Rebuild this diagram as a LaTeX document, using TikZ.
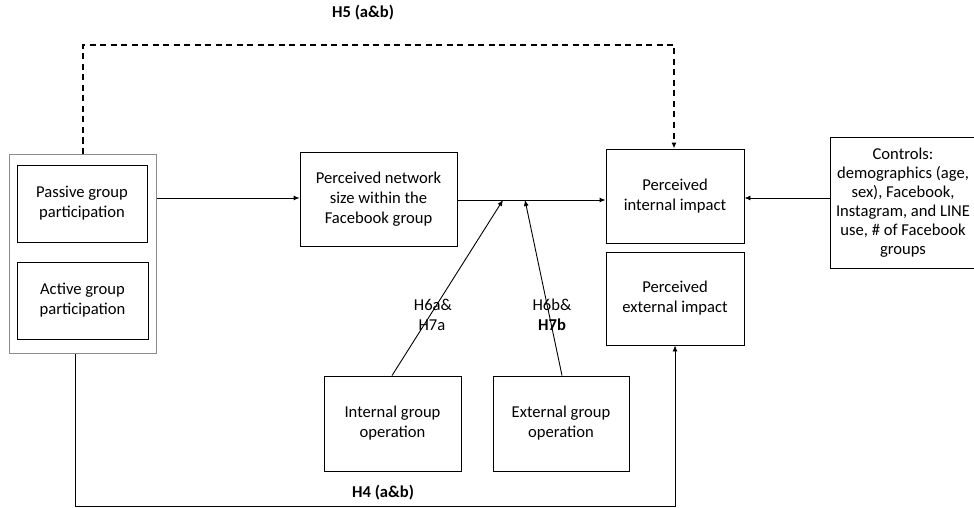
\documentclass[tikz,border=0pt]{standalone}
\usepackage{fontspec}
\setmainfont{Carlito}
\usetikzlibrary{arrows.meta}
\begin{document}
\begin{tikzpicture}[x=1pt,y=-1pt,
  box/.style={draw=black, line width=0.9pt, align=center, inner sep=0pt, font=\fontsize{16.6}{20}\selectfont},
  lbl/.style={font=\fontsize{16.6}{20}\selectfont, inner sep=0pt, align=center},
  blbl/.style={font=\fontsize{16.6}{20}\selectfont\bfseries, inner sep=0pt, align=center},
  conn/.style={line width=0.9pt, -{Latex[length=6pt,width=5pt]}},
  plain/.style={line width=0.9pt}]
\useasboundingbox (0,0) rectangle (974,508);
% outer group box
\node[draw=black!45, line width=1pt, minimum width=147pt, minimum height=199pt, inner sep=0pt] (outer) at (82.5,254) {};
\node[box, minimum width=130pt, minimum height=77pt] (passive) at (82,203.5) {Passive group\\participation};
\node[box, minimum width=131pt, minimum height=77pt] (active) at (82.5,300.5) {Active group\\participation};
\node[box, minimum width=157pt, minimum height=94pt] (network) at (378.5,199) {Perceived network\\size within the\\Facebook group};
\node[box, minimum width=138pt, minimum height=94pt] (internal) at (675,196) {Perceived\\internal impact};
\node[box, minimum width=138pt, minimum height=93pt] (external) at (675,298.5) {Perceived\\external impact};
\node[box, minimum width=145pt, minimum height=131pt, font=\fontsize{16.6}{19}\selectfont] (controls) at (903,202.5) {Controls:\\demographics (age,\\sex), Facebook,\\Instagram, and LINE\\use, \# of Facebook\\groups};
\node[box, minimum width=137pt, minimum height=95pt] (intop) at (392.5,423.5) {Internal group\\operation};
\node[box, minimum width=136pt, minimum height=95pt] (extop) at (561,423.5) {External group\\operation};
% junction coordinates
\coordinate (j1) at (503,200);
\coordinate (j2) at (525,200);
% connectors
\draw[conn] (outer.east |- 0,198) -- (network.west |- 0,198);
\draw[conn] (network.east |- 0,200) -- (internal.west |- 0,200);
\draw[conn] (controls.west |- 0,198) -- (internal.east |- 0,198);
\draw[conn] (intop.north -| 392,0) -- (j1);
\draw[conn] (extop.north -| 562,0) -- (j2);
\draw[line width=1.6pt, dash pattern=on 6pt off 4.5pt, -{Latex[length=6pt,width=5pt]}]
  (outer.north -| 83,0) -- (83,45) -- (674,45) -- (internal.north -| 674,0);
\draw[conn] (outer.south -| 75,0) -- (75,506) -- (675,506) -- (external.south -| 675,0);
% labels
\node[blbl] (h5) at (363,13) {H5 (a\&b)};
\node[blbl] (h4) at (383,493) {H4 (a\&b)};
\node[lbl] (h6a) at (433,305) {H6a\&};
\node[lbl] (h7a) at (432,325) {H7a};
\node[lbl] (h6b) at (552,305) {H6b\&};
\node[blbl] (h7b) at (552,325) {H7b};
\end{tikzpicture}
\end{document}
